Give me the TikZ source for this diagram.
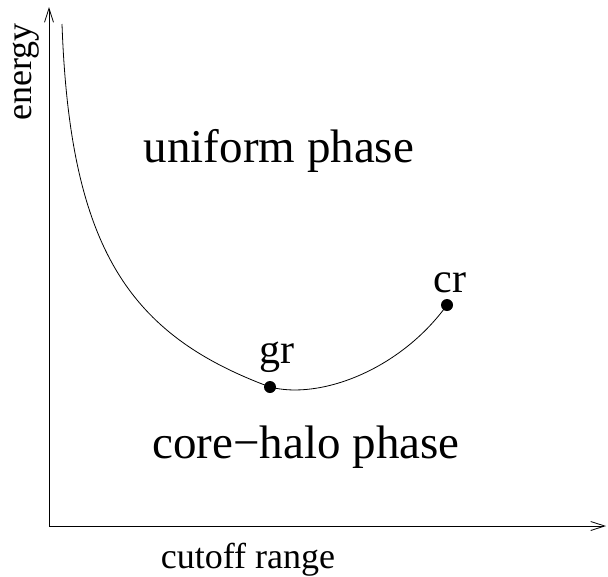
\documentclass[tikz,border=0pt]{standalone}
\usepackage{fontspec}
\setmainfont{Liberation Serif}
\usetikzlibrary{arrows.meta}
\begin{document}
\begin{tikzpicture}[x=1pt, y=-1pt, line width=0.8pt,
    axis/.style={-{Straight Barb[length=14pt, width=9pt]}},
    phase text/.style={anchor=base, inner sep=0pt, font=\fontsize{47}{50}\selectfont},
    point text/.style={anchor=base, inner sep=0pt, font=\fontsize{42}{44}\selectfont},
    axis text/.style={anchor=base, inner sep=0pt, font=\fontsize{36}{38}\selectfont},
    dot/.style={circle, fill=black, inner sep=0pt, minimum size=12pt}]
    \useasboundingbox (0,0) rectangle (608,576);
    % axes
    \coordinate (origin) at (49,526);
    \coordinate (ytop) at (49,7);
    \coordinate (xend) at (606,526);
    \draw[axis] (origin) -- (ytop);
    \draw[axis] (origin) -- (xend);
    \node[axis text, rotate=90] (ylabel) at (31,72) {energy};
    \node[axis text] (xlabel) at (248,568) {cutoff range};
    % phases
    \node[phase text] (uniform) at (279,162) {uniform phase};
    \node[phase text] (corehalo) at (306,458) {core−halo phase};
    % boundary curve
    \coordinate (start) at (62,24);
    \coordinate (gr) at (270,387);
    \coordinate (cr) at (447,305);
    \draw (start) .. controls (70,250) and (130,335) .. (gr)
                  .. controls (320,400) and (400,370) .. (cr);
    \node[dot] (grdot) at (gr) {};
    \node[dot] (crdot) at (cr) {};
    \node[point text] (grlabel) at (277,363) {gr};
    \node[point text] (crlabel) at (450,292) {cr};
\end{tikzpicture}
\end{document}
